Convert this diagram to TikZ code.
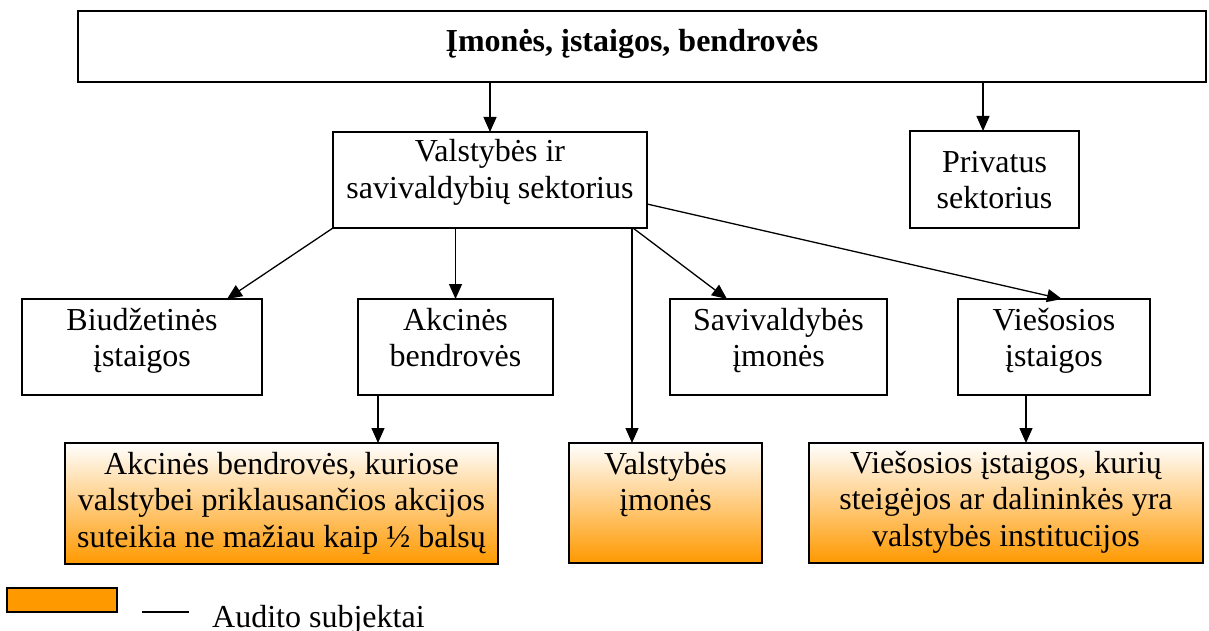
\documentclass[tikz,border=0pt]{standalone}
\usepackage{fontspec}
\setmainfont{Liberation Serif}
\usetikzlibrary{arrows.meta,calc}
\definecolor{orng}{HTML}{FF9900}
\newcommand{\bxt}[4]{\parbox[c][#2pt][t]{#1pt}{\centering\rule{0pt}{#3pt}#4}}
\begin{document}
\begin{tikzpicture}[x=1pt,y=-1pt,
  font=\fontsize{32}{36.8}\selectfont,
  bx/.style={draw=black, line width=1.1pt, inner sep=0pt, outer sep=0pt, anchor=north west},
  aud/.style={bx, top color=white, bottom color=orng},
  arr/.style={line width=1.3pt, -{Triangle[length=15pt,width=13pt]}}]
\useasboundingbox (0,0) rectangle (1209,631);
\node[bx] (title) at (78,11) {\bxt{1128}{71}{41}{\bfseries Įmonės, įstaigos, bendrovės\hspace*{20pt}}};
\node[bx] (vs) at (333,132) {\bxt{314}{96}{30}{Valstybės ir\\savivaldybių sektorius}};
\node[bx] (ps) at (910,131) {\bxt{169}{97}{41}{Privatus\\sektorius}};
\node[bx] (bi) at (22,299) {\bxt{240}{96}{31}{Biudžetinės\\įstaigos}};
\node[bx] (ab) at (358,299) {\bxt{195}{96}{31}{Akcinės\\bendrovės}};
\node[bx] (si) at (670,299) {\bxt{217}{96}{31}{Savivaldybės\\įmonės}};
\node[bx] (vie) at (958,299) {\bxt{192}{96}{31}{Viešosios\\įstaigos}};
\node[aud] (abl) at (65,443) {\bxt{433}{121}{31}{Akcinės bendrovės, kuriose\\valstybei priklausančios akcijos\\suteikia ne mažiau kaip ½ balsų}};
\node[aud] (vi) at (569,443) {\bxt{193}{120}{31}{Valstybės\\įmonės}};
\node[aud] (viel) at (809,443) {\bxt{394}{120}{30}{Viešosios įstaigos, kurių\\steigėjos ar dalininkės yra\\valstybės institucijos}};
% connectors
\draw[arr] (title.south -| vs.north) -- (vs.north);
\draw[arr] ([xshift=-11.5pt]ps.north |- title.south) -- ([xshift=-11.5pt]ps.north);
\draw[arr] (vs.south west) -- ([xshift=85pt]bi.north);
\draw[arr] (vs.south -| ab.north) -- (ab.north);
\draw[arr] ([xshift=-15pt]vs.south east) -- ([xshift=-15pt]vs.south east |- vi.north);
\draw[arr] ([xshift=-14pt]vs.south east) -- ([xshift=-51.5pt]si.north);
\draw[arr] ([yshift=-24pt]vs.east) -- ([xshift=8pt]vie.north);
\draw[arr] ([xshift=20pt]ab.south west) -- ([xshift=20pt]ab.south west |- abl.north);
\draw[arr] ([xshift=-28pt]vie.south) -- ([xshift=-28pt]vie.south |- viel.north);
% legend
\node[bx, fill=orng, minimum width=110pt, minimum height=24pt] (leg) at (7,588) {};
\coordinate (la) at (142,612);
\coordinate (lb) at (189,612);
\draw[line width=1.3pt] (la) -- (lb);
\node[anchor=base west, inner sep=0pt] (legt) at (212,627) {Audito subjektai};
\end{tikzpicture}
\end{document}
